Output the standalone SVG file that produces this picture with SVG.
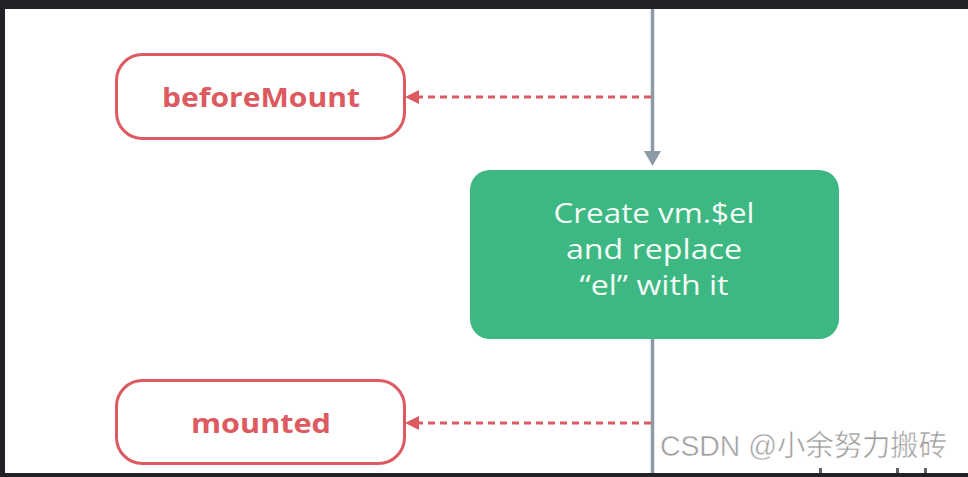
<svg xmlns="http://www.w3.org/2000/svg" width="968" height="477" viewBox="0 0 968 477">
<style>
.hook rect{fill:#fff;stroke:#dc5a60;stroke-width:3}
.hook text{fill:#dc5a60;font-family:"Open Sans","Liberation Sans",sans-serif;font-weight:700;font-size:27px;text-anchor:middle}
.dash{stroke:#dc5a60;stroke-width:3;stroke-dasharray:7 5;fill:none}
.flow{stroke:#8d9ba6;stroke-width:3.5;fill:none}
.gt{fill:#f4fbf7;font-family:"Open Sans","Liberation Sans",sans-serif;font-size:28px;text-anchor:middle}
</style>
<rect x="0" y="0" width="968" height="477" fill="#fff"/>
<g id="connectors">
<line class="flow" x1="652.5" y1="9" x2="652.5" y2="153"/>
<path d="M644,151 L661,151 L652.5,166 Z" fill="#8d9ba6"/>
<line class="flow" x1="652.5" y1="339" x2="652.5" y2="473"/>
<line class="dash" x1="651" y1="97" x2="419" y2="97"/>
<path d="M405,97 L419,90 L419,104 Z" fill="#dc5a60"/>
<line class="dash" x1="651" y1="423" x2="419" y2="423"/>
<path d="M405,423 L419,416 L419,430 Z" fill="#dc5a60"/>
</g>
<g id="beforeMount" class="hook">
<rect x="116.5" y="54.5" width="288" height="84" rx="26"/>
<text x="261" y="106.5" textLength="198" lengthAdjust="spacingAndGlyphs">beforeMount</text>
</g>
<g id="createEl">
<rect x="470" y="170" width="369" height="169" rx="20" fill="#3db882"/>
<text class="gt" x="654" y="223" textLength="201" lengthAdjust="spacingAndGlyphs">Create vm.$el</text>
<text class="gt" x="654" y="259" textLength="176" lengthAdjust="spacingAndGlyphs">and replace</text>
<text class="gt" x="654" y="295" textLength="149" lengthAdjust="spacingAndGlyphs">“el” with it</text>
</g>
<g id="mounted" class="hook">
<rect x="116.5" y="380.5" width="288" height="83" rx="26"/>
<text x="261" y="432.5" textLength="140" lengthAdjust="spacingAndGlyphs">mounted</text>
</g>
<g id="watermark">
<text x="660" y="456" font-family="'Liberation Sans','Noto Sans CJK SC',sans-serif" font-size="29" fill="#9d9d9d" stroke="#fff" stroke-width="0.5" textLength="287" lengthAdjust="spacingAndGlyphs">CSDN @小余努力搬砖</text>
<rect x="819" y="468" width="3" height="5" fill="#5a6169"/>
<rect x="896" y="468" width="3" height="5" fill="#5a6169"/>
<rect x="924" y="468" width="3" height="5" fill="#5a6169"/>
</g>
<g id="frame" fill="#222226">
<rect x="0" y="0" width="968" height="9"/>
<rect x="0" y="0" width="5" height="477"/>
<rect x="0" y="473" width="968" height="4"/>
</g>
</svg>
